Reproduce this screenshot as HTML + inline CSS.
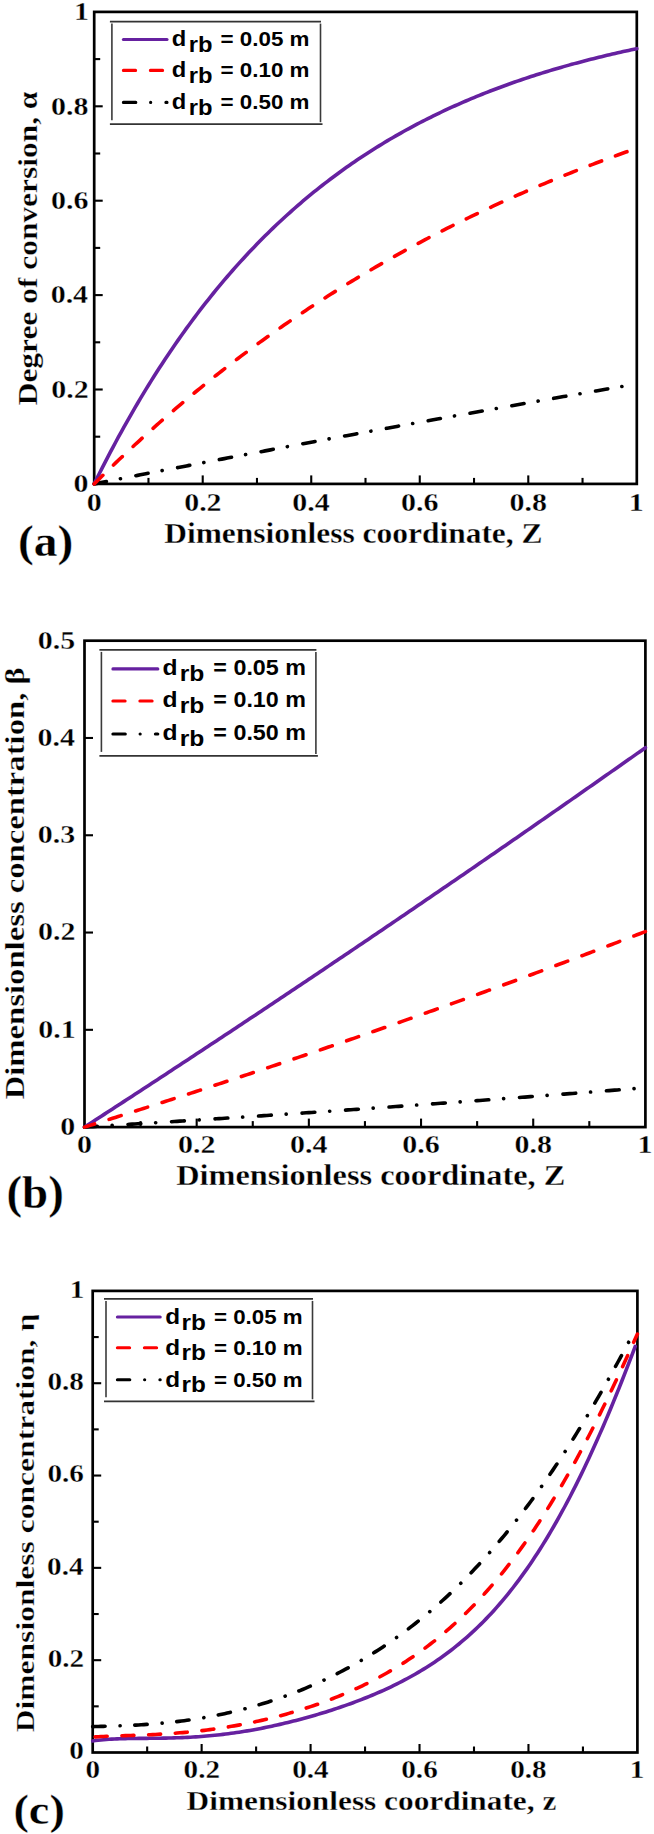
<!DOCTYPE html>
<html><head><meta charset="utf-8"><style>html,body{margin:0;padding:0;background:#fff;}svg{display:block;}</style></head>
<body><svg width="654" height="1834" viewBox="0 0 654 1834">
<rect width="654" height="1834" fill="#fff"/>
<rect x="94.20" y="11.90" width="542.60" height="472.00" fill="none" stroke="#000" stroke-width="2.7"/>
<line x1="202.72" y1="483.90" x2="202.72" y2="475.40" stroke="#000" stroke-width="2.1" stroke-linecap="butt"/>
<line x1="311.24" y1="483.90" x2="311.24" y2="475.40" stroke="#000" stroke-width="2.1" stroke-linecap="butt"/>
<line x1="419.76" y1="483.90" x2="419.76" y2="475.40" stroke="#000" stroke-width="2.1" stroke-linecap="butt"/>
<line x1="528.28" y1="483.90" x2="528.28" y2="475.40" stroke="#000" stroke-width="2.1" stroke-linecap="butt"/>
<line x1="148.46" y1="483.90" x2="148.46" y2="477.90" stroke="#000" stroke-width="2.1" stroke-linecap="butt"/>
<line x1="256.98" y1="483.90" x2="256.98" y2="477.90" stroke="#000" stroke-width="2.1" stroke-linecap="butt"/>
<line x1="365.50" y1="483.90" x2="365.50" y2="477.90" stroke="#000" stroke-width="2.1" stroke-linecap="butt"/>
<line x1="474.02" y1="483.90" x2="474.02" y2="477.90" stroke="#000" stroke-width="2.1" stroke-linecap="butt"/>
<line x1="582.54" y1="483.90" x2="582.54" y2="477.90" stroke="#000" stroke-width="2.1" stroke-linecap="butt"/>
<line x1="94.20" y1="389.50" x2="102.70" y2="389.50" stroke="#000" stroke-width="2.1" stroke-linecap="butt"/>
<line x1="94.20" y1="295.10" x2="102.70" y2="295.10" stroke="#000" stroke-width="2.1" stroke-linecap="butt"/>
<line x1="94.20" y1="200.70" x2="102.70" y2="200.70" stroke="#000" stroke-width="2.1" stroke-linecap="butt"/>
<line x1="94.20" y1="106.30" x2="102.70" y2="106.30" stroke="#000" stroke-width="2.1" stroke-linecap="butt"/>
<line x1="94.20" y1="436.70" x2="100.20" y2="436.70" stroke="#000" stroke-width="2.1" stroke-linecap="butt"/>
<line x1="94.20" y1="342.30" x2="100.20" y2="342.30" stroke="#000" stroke-width="2.1" stroke-linecap="butt"/>
<line x1="94.20" y1="247.90" x2="100.20" y2="247.90" stroke="#000" stroke-width="2.1" stroke-linecap="butt"/>
<line x1="94.20" y1="153.50" x2="100.20" y2="153.50" stroke="#000" stroke-width="2.1" stroke-linecap="butt"/>
<line x1="94.20" y1="59.10" x2="100.20" y2="59.10" stroke="#000" stroke-width="2.1" stroke-linecap="butt"/>
<path d="M94.20,483.90 L96.91,478.42 L99.63,473.00 L102.34,467.64 L105.05,462.34 L107.77,457.10 L110.48,451.92 L113.19,446.80 L115.90,441.74 L118.62,436.73 L121.33,431.78 L124.04,426.89 L126.76,422.05 L129.47,417.27 L132.18,412.54 L134.89,407.86 L137.61,403.24 L140.32,398.67 L143.03,394.15 L145.75,389.68 L148.46,385.27 L151.17,380.90 L153.89,376.58 L156.60,372.31 L159.31,368.09 L162.02,363.92 L164.74,359.79 L167.45,355.71 L170.16,351.68 L172.88,347.69 L175.59,343.74 L178.30,339.85 L181.02,335.99 L183.73,332.18 L186.44,328.41 L189.16,324.69 L191.87,321.00 L194.58,317.36 L197.29,313.76 L200.01,310.20 L202.72,306.68 L205.43,303.20 L208.15,299.76 L210.86,296.36 L213.57,293.00 L216.28,289.67 L219.00,286.38 L221.71,283.13 L224.42,279.92 L227.14,276.74 L229.85,273.60 L232.56,270.49 L235.28,267.42 L237.99,264.39 L240.70,261.39 L243.41,258.42 L246.13,255.48 L248.84,252.58 L251.55,249.71 L254.27,246.88 L256.98,244.07 L259.69,241.30 L262.41,238.56 L265.12,235.85 L267.83,233.17 L270.54,230.52 L273.26,227.90 L275.97,225.31 L278.68,222.75 L281.40,220.22 L284.11,217.72 L286.82,215.24 L289.54,212.79 L292.25,210.38 L294.96,207.98 L297.67,205.62 L300.39,203.28 L303.10,200.97 L305.81,198.68 L308.53,196.42 L311.24,194.19 L313.95,191.98 L316.67,189.80 L319.38,187.64 L322.09,185.50 L324.80,183.39 L327.52,181.31 L330.23,179.24 L332.94,177.20 L335.66,175.19 L338.37,173.19 L341.08,171.22 L343.80,169.27 L346.51,167.34 L349.22,165.44 L351.93,163.55 L354.65,161.69 L357.36,159.85 L360.07,158.03 L362.79,156.23 L365.50,154.45 L368.21,152.69 L370.93,150.95 L373.64,149.23 L376.35,147.53 L379.06,145.85 L381.78,144.18 L384.49,142.54 L387.20,140.91 L389.92,139.31 L392.63,137.72 L395.34,136.15 L398.06,134.59 L400.77,133.06 L403.48,131.54 L406.19,130.04 L408.91,128.56 L411.62,127.09 L414.33,125.64 L417.05,124.20 L419.76,122.78 L422.47,121.38 L425.19,120.00 L427.90,118.63 L430.61,117.27 L433.32,115.93 L436.04,114.61 L438.75,113.30 L441.46,112.00 L444.18,110.72 L446.89,109.46 L449.60,108.20 L452.32,106.97 L455.03,105.74 L457.74,104.53 L460.45,103.34 L463.17,102.16 L465.88,100.99 L468.59,99.83 L471.31,98.69 L474.02,97.56 L476.73,96.44 L479.45,95.34 L482.16,94.24 L484.87,93.16 L487.58,92.10 L490.30,91.04 L493.01,90.00 L495.72,88.97 L498.44,87.95 L501.15,86.94 L503.86,85.94 L506.58,84.96 L509.29,83.98 L512.00,83.02 L514.71,82.06 L517.43,81.12 L520.14,80.19 L522.85,79.27 L525.57,78.36 L528.28,77.46 L530.99,76.57 L533.71,75.69 L536.42,74.82 L539.13,73.96 L541.85,73.11 L544.56,72.27 L547.27,71.44 L549.98,70.61 L552.70,69.80 L555.41,69.00 L558.12,68.20 L560.84,67.42 L563.55,66.64 L566.26,65.87 L568.97,65.11 L571.69,64.36 L574.40,63.62 L577.11,62.89 L579.83,62.16 L582.54,61.45 L585.25,60.74 L587.97,60.04 L590.68,59.34 L593.39,58.66 L596.10,57.98 L598.82,57.31 L601.53,56.65 L604.24,55.99 L606.96,55.34 L609.67,54.70 L612.38,54.07 L615.10,53.45 L617.81,52.83 L620.52,52.22 L623.23,51.61 L625.95,51.01 L628.66,50.42 L631.37,49.84 L634.09,49.26 L636.80,48.69" fill="none" stroke="#6621a0" stroke-width="3.6" stroke-linecap="round" stroke-linejoin="round"/>
<path d="M94.20,483.90 L96.91,483.36 L99.63,482.83 L102.34,482.30 L105.05,481.76 L107.77,481.23 L110.48,480.69 L113.19,480.16 L115.90,479.63 L118.62,479.10 L121.33,478.57 L124.04,478.03 L126.76,477.50 L129.47,476.97 L132.18,476.44 L134.89,475.91 L137.61,475.38 L140.32,474.85 L143.03,474.32 L145.75,473.79 L148.46,473.27 L151.17,472.74 L153.89,472.21 L156.60,471.68 L159.31,471.16 L162.02,470.63 L164.74,470.10 L167.45,469.58 L170.16,469.05 L172.88,468.53 L175.59,468.00 L178.30,467.48 L181.02,466.95 L183.73,466.43 L186.44,465.91 L189.16,465.38 L191.87,464.86 L194.58,464.34 L197.29,463.82 L200.01,463.29 L202.72,462.77 L205.43,462.25 L208.15,461.73 L210.86,461.21 L213.57,460.69 L216.28,460.17 L219.00,459.65 L221.71,459.13 L224.42,458.62 L227.14,458.10 L229.85,457.58 L232.56,457.06 L235.28,456.55 L237.99,456.03 L240.70,455.51 L243.41,455.00 L246.13,454.48 L248.84,453.97 L251.55,453.45 L254.27,452.94 L256.98,452.42 L259.69,451.91 L262.41,451.40 L265.12,450.88 L267.83,450.37 L270.54,449.86 L273.26,449.34 L275.97,448.83 L278.68,448.32 L281.40,447.81 L284.11,447.30 L286.82,446.79 L289.54,446.28 L292.25,445.77 L294.96,445.26 L297.67,444.75 L300.39,444.24 L303.10,443.74 L305.81,443.23 L308.53,442.72 L311.24,442.21 L313.95,441.71 L316.67,441.20 L319.38,440.69 L322.09,440.19 L324.80,439.68 L327.52,439.18 L330.23,438.67 L332.94,438.17 L335.66,437.66 L338.37,437.16 L341.08,436.66 L343.80,436.16 L346.51,435.65 L349.22,435.15 L351.93,434.65 L354.65,434.15 L357.36,433.65 L360.07,433.15 L362.79,432.65 L365.50,432.15 L368.21,431.65 L370.93,431.15 L373.64,430.65 L376.35,430.15 L379.06,429.65 L381.78,429.15 L384.49,428.65 L387.20,428.16 L389.92,427.66 L392.63,427.16 L395.34,426.67 L398.06,426.17 L400.77,425.68 L403.48,425.18 L406.19,424.69 L408.91,424.19 L411.62,423.70 L414.33,423.21 L417.05,422.71 L419.76,422.22 L422.47,421.73 L425.19,421.23 L427.90,420.74 L430.61,420.25 L433.32,419.76 L436.04,419.27 L438.75,418.78 L441.46,418.29 L444.18,417.80 L446.89,417.31 L449.60,416.82 L452.32,416.33 L455.03,415.84 L457.74,415.35 L460.45,414.87 L463.17,414.38 L465.88,413.89 L468.59,413.41 L471.31,412.92 L474.02,412.43 L476.73,411.95 L479.45,411.46 L482.16,410.98 L484.87,410.49 L487.58,410.01 L490.30,409.53 L493.01,409.04 L495.72,408.56 L498.44,408.08 L501.15,407.60 L503.86,407.11 L506.58,406.63 L509.29,406.15 L512.00,405.67 L514.71,405.19 L517.43,404.71 L520.14,404.23 L522.85,403.75 L525.57,403.27 L528.28,402.79 L530.99,402.31 L533.71,401.84 L536.42,401.36 L539.13,400.88 L541.85,400.40 L544.56,399.93 L547.27,399.45 L549.98,398.97 L552.70,398.50 L555.41,398.02 L558.12,397.55 L560.84,397.07 L563.55,396.60 L566.26,396.13 L568.97,395.65 L571.69,395.18 L574.40,394.71 L577.11,394.23 L579.83,393.76 L582.54,393.29 L585.25,392.82 L587.97,392.35 L590.68,391.88 L593.39,391.41 L596.10,390.94 L598.82,390.47 L601.53,390.00 L604.24,389.53 L606.96,389.06 L609.67,388.59 L612.38,388.12 L615.10,387.66 L617.81,387.19 L620.52,386.72 L623.23,386.26 L625.95,385.79 L628.66,385.33 L631.37,384.86 L634.09,384.40 L636.80,383.93" fill="none" stroke="#000000" stroke-width="3.6" stroke-linecap="round" stroke-linejoin="round" stroke-dasharray="12.4 14.28 0.1 15.71" stroke-dashoffset="0"/>
<path d="M94.20,483.90 L96.91,481.20 L99.63,478.51 L102.34,475.83 L105.05,473.17 L107.77,470.52 L110.48,467.89 L113.19,465.27 L115.90,462.66 L118.62,460.07 L121.33,457.49 L124.04,454.92 L126.76,452.37 L129.47,449.83 L132.18,447.31 L134.89,444.80 L137.61,442.30 L140.32,439.81 L143.03,437.34 L145.75,434.88 L148.46,432.43 L151.17,430.00 L153.89,427.57 L156.60,425.17 L159.31,422.77 L162.02,420.39 L164.74,418.01 L167.45,415.66 L170.16,413.31 L172.88,410.98 L175.59,408.65 L178.30,406.34 L181.02,404.05 L183.73,401.76 L186.44,399.49 L189.16,397.22 L191.87,394.97 L194.58,392.74 L197.29,390.51 L200.01,388.29 L202.72,386.09 L205.43,383.90 L208.15,381.72 L210.86,379.55 L213.57,377.39 L216.28,375.25 L219.00,373.11 L221.71,370.99 L224.42,368.88 L227.14,366.77 L229.85,364.68 L232.56,362.60 L235.28,360.54 L237.99,358.48 L240.70,356.43 L243.41,354.39 L246.13,352.37 L248.84,350.35 L251.55,348.35 L254.27,346.36 L256.98,344.37 L259.69,342.40 L262.41,340.44 L265.12,338.48 L267.83,336.54 L270.54,334.61 L273.26,332.69 L275.97,330.77 L278.68,328.87 L281.40,326.98 L284.11,325.10 L286.82,323.23 L289.54,321.36 L292.25,319.51 L294.96,317.67 L297.67,315.83 L300.39,314.01 L303.10,312.20 L305.81,310.39 L308.53,308.60 L311.24,306.81 L313.95,305.03 L316.67,303.27 L319.38,301.51 L322.09,299.76 L324.80,298.02 L327.52,296.29 L330.23,294.57 L332.94,292.86 L335.66,291.15 L338.37,289.46 L341.08,287.77 L343.80,286.09 L346.51,284.43 L349.22,282.77 L351.93,281.12 L354.65,279.47 L357.36,277.84 L360.07,276.22 L362.79,274.60 L365.50,272.99 L368.21,271.39 L370.93,269.80 L373.64,268.22 L376.35,266.64 L379.06,265.08 L381.78,263.52 L384.49,261.97 L387.20,260.43 L389.92,258.89 L392.63,257.37 L395.34,255.85 L398.06,254.34 L400.77,252.84 L403.48,251.35 L406.19,249.86 L408.91,248.38 L411.62,246.91 L414.33,245.45 L417.05,243.99 L419.76,242.55 L422.47,241.11 L425.19,239.67 L427.90,238.25 L430.61,236.83 L433.32,235.42 L436.04,234.02 L438.75,232.62 L441.46,231.23 L444.18,229.85 L446.89,228.48 L449.60,227.11 L452.32,225.75 L455.03,224.40 L457.74,223.06 L460.45,221.72 L463.17,220.39 L465.88,219.06 L468.59,217.75 L471.31,216.44 L474.02,215.13 L476.73,213.84 L479.45,212.55 L482.16,211.26 L484.87,209.99 L487.58,208.72 L490.30,207.46 L493.01,206.20 L495.72,204.95 L498.44,203.71 L501.15,202.47 L503.86,201.24 L506.58,200.02 L509.29,198.80 L512.00,197.59 L514.71,196.38 L517.43,195.18 L520.14,193.99 L522.85,192.81 L525.57,191.63 L528.28,190.45 L530.99,189.29 L533.71,188.13 L536.42,186.97 L539.13,185.82 L541.85,184.68 L544.56,183.54 L547.27,182.41 L549.98,181.28 L552.70,180.17 L555.41,179.05 L558.12,177.94 L560.84,176.84 L563.55,175.75 L566.26,174.66 L568.97,173.57 L571.69,172.49 L574.40,171.42 L577.11,170.35 L579.83,169.29 L582.54,168.23 L585.25,167.18 L587.97,166.14 L590.68,165.10 L593.39,164.06 L596.10,163.03 L598.82,162.01 L601.53,160.99 L604.24,159.98 L606.96,158.97 L609.67,157.97 L612.38,156.97 L615.10,155.98 L617.81,154.99 L620.52,154.01 L623.23,153.03 L625.95,152.06 L628.66,151.10 L631.37,150.14 L634.09,149.18 L636.80,148.23" fill="none" stroke="#ff0000" stroke-width="3.6" stroke-linecap="round" stroke-linejoin="round" stroke-dasharray="12.2 14.8" stroke-dashoffset="0"/>
<line x1="109.90" y1="21.60" x2="321.00" y2="21.60" stroke="#333" stroke-width="1.6" stroke-linecap="butt"/>
<line x1="109.90" y1="124.20" x2="322.50" y2="124.20" stroke="#333" stroke-width="1.8" stroke-linecap="butt"/>
<line x1="111.90" y1="23.60" x2="111.90" y2="120.20" stroke="#3a3a3a" stroke-width="1.6" stroke-linecap="butt"/>
<line x1="320.50" y1="23.60" x2="320.50" y2="122.20" stroke="#3a3a3a" stroke-width="1.6" stroke-linecap="butt"/>
<path d="M123.40,39.50 L167.00,39.50" stroke="#6621a0" stroke-width="3.1" stroke-linecap="round"/>
<path d="M123.40,70.40 L167.00,70.40" stroke="#ff0000" stroke-width="3.1" stroke-linecap="round" stroke-dasharray="12.2 14.8"/>
<path d="M123.40,102.40 L167.00,102.40" stroke="#000000" stroke-width="3.1" stroke-linecap="round" stroke-dasharray="12.4 14.8 0.1 15.2"/>
<rect x="84.50" y="640.70" width="560.90" height="486.40" fill="none" stroke="#000" stroke-width="2.7"/>
<line x1="196.68" y1="1127.10" x2="196.68" y2="1118.60" stroke="#000" stroke-width="2.1" stroke-linecap="butt"/>
<line x1="308.86" y1="1127.10" x2="308.86" y2="1118.60" stroke="#000" stroke-width="2.1" stroke-linecap="butt"/>
<line x1="421.04" y1="1127.10" x2="421.04" y2="1118.60" stroke="#000" stroke-width="2.1" stroke-linecap="butt"/>
<line x1="533.22" y1="1127.10" x2="533.22" y2="1118.60" stroke="#000" stroke-width="2.1" stroke-linecap="butt"/>
<line x1="140.59" y1="1127.10" x2="140.59" y2="1121.10" stroke="#000" stroke-width="2.1" stroke-linecap="butt"/>
<line x1="252.77" y1="1127.10" x2="252.77" y2="1121.10" stroke="#000" stroke-width="2.1" stroke-linecap="butt"/>
<line x1="364.95" y1="1127.10" x2="364.95" y2="1121.10" stroke="#000" stroke-width="2.1" stroke-linecap="butt"/>
<line x1="477.13" y1="1127.10" x2="477.13" y2="1121.10" stroke="#000" stroke-width="2.1" stroke-linecap="butt"/>
<line x1="589.31" y1="1127.10" x2="589.31" y2="1121.10" stroke="#000" stroke-width="2.1" stroke-linecap="butt"/>
<line x1="84.50" y1="1029.82" x2="93.00" y2="1029.82" stroke="#000" stroke-width="2.1" stroke-linecap="butt"/>
<line x1="84.50" y1="932.54" x2="93.00" y2="932.54" stroke="#000" stroke-width="2.1" stroke-linecap="butt"/>
<line x1="84.50" y1="835.26" x2="93.00" y2="835.26" stroke="#000" stroke-width="2.1" stroke-linecap="butt"/>
<line x1="84.50" y1="737.98" x2="93.00" y2="737.98" stroke="#000" stroke-width="2.1" stroke-linecap="butt"/>
<path d="M84.50,1127.10 L87.30,1125.29 L90.11,1123.47 L92.91,1121.65 L95.72,1119.84 L98.52,1118.02 L101.33,1116.20 L104.13,1114.38 L106.94,1112.56 L109.74,1110.74 L112.55,1108.92 L115.35,1107.09 L118.15,1105.27 L120.96,1103.44 L123.76,1101.62 L126.57,1099.79 L129.37,1097.97 L132.18,1096.14 L134.98,1094.31 L137.79,1092.48 L140.59,1090.65 L143.39,1088.82 L146.20,1086.99 L149.00,1085.15 L151.81,1083.32 L154.61,1081.48 L157.42,1079.65 L160.22,1077.81 L163.03,1075.98 L165.83,1074.14 L168.63,1072.30 L171.44,1070.46 L174.24,1068.62 L177.05,1066.78 L179.85,1064.94 L182.66,1063.09 L185.46,1061.25 L188.27,1059.41 L191.07,1057.56 L193.88,1055.71 L196.68,1053.87 L199.48,1052.02 L202.29,1050.17 L205.09,1048.32 L207.90,1046.47 L210.70,1044.62 L213.51,1042.77 L216.31,1040.92 L219.12,1039.06 L221.92,1037.21 L224.72,1035.35 L227.53,1033.50 L230.33,1031.64 L233.14,1029.78 L235.94,1027.92 L238.75,1026.06 L241.55,1024.20 L244.36,1022.34 L247.16,1020.48 L249.97,1018.62 L252.77,1016.76 L255.57,1014.89 L258.38,1013.03 L261.18,1011.16 L263.99,1009.29 L266.79,1007.43 L269.60,1005.56 L272.40,1003.69 L275.21,1001.82 L278.01,999.95 L280.81,998.08 L283.62,996.20 L286.42,994.33 L289.23,992.45 L292.03,990.58 L294.84,988.70 L297.64,986.83 L300.45,984.95 L303.25,983.07 L306.06,981.19 L308.86,979.31 L311.66,977.43 L314.47,975.55 L317.27,973.67 L320.08,971.78 L322.88,969.90 L325.69,968.01 L328.49,966.13 L331.30,964.24 L334.10,962.35 L336.90,960.47 L339.71,958.58 L342.51,956.69 L345.32,954.80 L348.12,952.91 L350.93,951.01 L353.73,949.12 L356.54,947.23 L359.34,945.33 L362.15,943.43 L364.95,941.54 L367.75,939.64 L370.56,937.74 L373.36,935.84 L376.17,933.94 L378.97,932.04 L381.78,930.14 L384.58,928.24 L387.39,926.34 L390.19,924.43 L393.00,922.53 L395.80,920.62 L398.60,918.72 L401.41,916.81 L404.21,914.90 L407.02,912.99 L409.82,911.08 L412.63,909.17 L415.43,907.26 L418.24,905.35 L421.04,903.43 L423.84,901.52 L426.65,899.61 L429.45,897.69 L432.26,895.77 L435.06,893.86 L437.87,891.94 L440.67,890.02 L443.48,888.10 L446.28,886.18 L449.08,884.26 L451.89,882.34 L454.69,880.41 L457.50,878.49 L460.30,876.56 L463.11,874.64 L465.91,872.71 L468.72,870.78 L471.52,868.86 L474.33,866.93 L477.13,865.00 L479.93,863.07 L482.74,861.14 L485.54,859.20 L488.35,857.27 L491.15,855.34 L493.96,853.40 L496.76,851.47 L499.57,849.53 L502.37,847.59 L505.17,845.66 L507.98,843.72 L510.78,841.78 L513.59,839.84 L516.39,837.90 L519.20,835.95 L522.00,834.01 L524.81,832.07 L527.61,830.12 L530.42,828.18 L533.22,826.23 L536.02,824.29 L538.83,822.34 L541.63,820.39 L544.44,818.44 L547.24,816.49 L550.05,814.54 L552.85,812.59 L555.66,810.63 L558.46,808.68 L561.26,806.73 L564.07,804.77 L566.87,802.81 L569.68,800.86 L572.48,798.90 L575.29,796.94 L578.09,794.98 L580.90,793.02 L583.70,791.06 L586.51,789.10 L589.31,787.14 L592.11,785.17 L594.92,783.21 L597.72,781.24 L600.53,779.28 L603.33,777.31 L606.14,775.34 L608.94,773.37 L611.75,771.40 L614.55,769.43 L617.36,767.46 L620.16,765.49 L622.96,763.52 L625.77,761.55 L628.57,759.57 L631.38,757.60 L634.18,755.62 L636.99,753.64 L639.79,751.67 L642.60,749.69 L645.40,747.71" fill="none" stroke="#6621a0" stroke-width="3.6" stroke-linecap="round" stroke-linejoin="round"/>
<path d="M84.50,1127.10 L87.30,1126.93 L90.11,1126.76 L92.91,1126.59 L95.72,1126.42 L98.52,1126.25 L101.33,1126.07 L104.13,1125.90 L106.94,1125.73 L109.74,1125.56 L112.55,1125.38 L115.35,1125.21 L118.15,1125.04 L120.96,1124.86 L123.76,1124.69 L126.57,1124.52 L129.37,1124.34 L132.18,1124.17 L134.98,1123.99 L137.79,1123.82 L140.59,1123.64 L143.39,1123.47 L146.20,1123.29 L149.00,1123.11 L151.81,1122.94 L154.61,1122.76 L157.42,1122.58 L160.22,1122.41 L163.03,1122.23 L165.83,1122.05 L168.63,1121.87 L171.44,1121.69 L174.24,1121.52 L177.05,1121.34 L179.85,1121.16 L182.66,1120.98 L185.46,1120.80 L188.27,1120.62 L191.07,1120.44 L193.88,1120.26 L196.68,1120.08 L199.48,1119.90 L202.29,1119.71 L205.09,1119.53 L207.90,1119.35 L210.70,1119.17 L213.51,1118.99 L216.31,1118.80 L219.12,1118.62 L221.92,1118.44 L224.72,1118.25 L227.53,1118.07 L230.33,1117.89 L233.14,1117.70 L235.94,1117.52 L238.75,1117.33 L241.55,1117.15 L244.36,1116.96 L247.16,1116.78 L249.97,1116.59 L252.77,1116.40 L255.57,1116.22 L258.38,1116.03 L261.18,1115.84 L263.99,1115.66 L266.79,1115.47 L269.60,1115.28 L272.40,1115.09 L275.21,1114.91 L278.01,1114.72 L280.81,1114.53 L283.62,1114.34 L286.42,1114.15 L289.23,1113.96 L292.03,1113.77 L294.84,1113.58 L297.64,1113.39 L300.45,1113.20 L303.25,1113.01 L306.06,1112.82 L308.86,1112.62 L311.66,1112.43 L314.47,1112.24 L317.27,1112.05 L320.08,1111.86 L322.88,1111.66 L325.69,1111.47 L328.49,1111.28 L331.30,1111.08 L334.10,1110.89 L336.90,1110.69 L339.71,1110.50 L342.51,1110.31 L345.32,1110.11 L348.12,1109.92 L350.93,1109.72 L353.73,1109.52 L356.54,1109.33 L359.34,1109.13 L362.15,1108.94 L364.95,1108.74 L367.75,1108.54 L370.56,1108.34 L373.36,1108.15 L376.17,1107.95 L378.97,1107.75 L381.78,1107.55 L384.58,1107.35 L387.39,1107.15 L390.19,1106.95 L393.00,1106.76 L395.80,1106.56 L398.60,1106.36 L401.41,1106.15 L404.21,1105.95 L407.02,1105.75 L409.82,1105.55 L412.63,1105.35 L415.43,1105.15 L418.24,1104.95 L421.04,1104.75 L423.84,1104.54 L426.65,1104.34 L429.45,1104.14 L432.26,1103.93 L435.06,1103.73 L437.87,1103.53 L440.67,1103.32 L443.48,1103.12 L446.28,1102.91 L449.08,1102.71 L451.89,1102.50 L454.69,1102.30 L457.50,1102.09 L460.30,1101.89 L463.11,1101.68 L465.91,1101.47 L468.72,1101.27 L471.52,1101.06 L474.33,1100.85 L477.13,1100.64 L479.93,1100.44 L482.74,1100.23 L485.54,1100.02 L488.35,1099.81 L491.15,1099.60 L493.96,1099.39 L496.76,1099.18 L499.57,1098.97 L502.37,1098.76 L505.17,1098.55 L507.98,1098.34 L510.78,1098.13 L513.59,1097.92 L516.39,1097.71 L519.20,1097.50 L522.00,1097.29 L524.81,1097.08 L527.61,1096.86 L530.42,1096.65 L533.22,1096.44 L536.02,1096.22 L538.83,1096.01 L541.63,1095.80 L544.44,1095.58 L547.24,1095.37 L550.05,1095.15 L552.85,1094.94 L555.66,1094.72 L558.46,1094.51 L561.26,1094.29 L564.07,1094.08 L566.87,1093.86 L569.68,1093.65 L572.48,1093.43 L575.29,1093.21 L578.09,1092.99 L580.90,1092.78 L583.70,1092.56 L586.51,1092.34 L589.31,1092.12 L592.11,1091.90 L594.92,1091.69 L597.72,1091.47 L600.53,1091.25 L603.33,1091.03 L606.14,1090.81 L608.94,1090.59 L611.75,1090.37 L614.55,1090.15 L617.36,1089.93 L620.16,1089.70 L622.96,1089.48 L625.77,1089.26 L628.57,1089.04 L631.38,1088.82 L634.18,1088.59 L636.99,1088.37 L639.79,1088.15 L642.60,1087.93 L645.40,1087.70" fill="none" stroke="#000000" stroke-width="3.6" stroke-linecap="round" stroke-linejoin="round" stroke-dasharray="12.8 14.85 0.1 15.85" stroke-dashoffset="0"/>
<path d="M84.50,1127.10 L87.30,1126.22 L90.11,1125.35 L92.91,1124.47 L95.72,1123.59 L98.52,1122.71 L101.33,1121.83 L104.13,1120.95 L106.94,1120.06 L109.74,1119.18 L112.55,1118.29 L115.35,1117.41 L118.15,1116.52 L120.96,1115.63 L123.76,1114.74 L126.57,1113.85 L129.37,1112.96 L132.18,1112.07 L134.98,1111.18 L137.79,1110.28 L140.59,1109.39 L143.39,1108.49 L146.20,1107.59 L149.00,1106.69 L151.81,1105.79 L154.61,1104.89 L157.42,1103.99 L160.22,1103.09 L163.03,1102.19 L165.83,1101.28 L168.63,1100.37 L171.44,1099.47 L174.24,1098.56 L177.05,1097.65 L179.85,1096.74 L182.66,1095.83 L185.46,1094.92 L188.27,1094.01 L191.07,1093.09 L193.88,1092.18 L196.68,1091.26 L199.48,1090.35 L202.29,1089.43 L205.09,1088.51 L207.90,1087.59 L210.70,1086.67 L213.51,1085.75 L216.31,1084.82 L219.12,1083.90 L221.92,1082.97 L224.72,1082.05 L227.53,1081.12 L230.33,1080.19 L233.14,1079.26 L235.94,1078.33 L238.75,1077.40 L241.55,1076.47 L244.36,1075.54 L247.16,1074.60 L249.97,1073.67 L252.77,1072.73 L255.57,1071.79 L258.38,1070.85 L261.18,1069.92 L263.99,1068.97 L266.79,1068.03 L269.60,1067.09 L272.40,1066.15 L275.21,1065.20 L278.01,1064.26 L280.81,1063.31 L283.62,1062.36 L286.42,1061.41 L289.23,1060.47 L292.03,1059.51 L294.84,1058.56 L297.64,1057.61 L300.45,1056.66 L303.25,1055.70 L306.06,1054.75 L308.86,1053.79 L311.66,1052.83 L314.47,1051.87 L317.27,1050.91 L320.08,1049.95 L322.88,1048.99 L325.69,1048.03 L328.49,1047.06 L331.30,1046.10 L334.10,1045.13 L336.90,1044.17 L339.71,1043.20 L342.51,1042.23 L345.32,1041.26 L348.12,1040.29 L350.93,1039.32 L353.73,1038.34 L356.54,1037.37 L359.34,1036.39 L362.15,1035.42 L364.95,1034.44 L367.75,1033.46 L370.56,1032.48 L373.36,1031.50 L376.17,1030.52 L378.97,1029.54 L381.78,1028.56 L384.58,1027.57 L387.39,1026.59 L390.19,1025.60 L393.00,1024.61 L395.80,1023.62 L398.60,1022.64 L401.41,1021.64 L404.21,1020.65 L407.02,1019.66 L409.82,1018.67 L412.63,1017.67 L415.43,1016.68 L418.24,1015.68 L421.04,1014.68 L423.84,1013.68 L426.65,1012.69 L429.45,1011.68 L432.26,1010.68 L435.06,1009.68 L437.87,1008.68 L440.67,1007.67 L443.48,1006.67 L446.28,1005.66 L449.08,1004.65 L451.89,1003.64 L454.69,1002.63 L457.50,1001.62 L460.30,1000.61 L463.11,999.60 L465.91,998.58 L468.72,997.57 L471.52,996.55 L474.33,995.54 L477.13,994.52 L479.93,993.50 L482.74,992.48 L485.54,991.46 L488.35,990.43 L491.15,989.41 L493.96,988.39 L496.76,987.36 L499.57,986.34 L502.37,985.31 L505.17,984.28 L507.98,983.25 L510.78,982.22 L513.59,981.19 L516.39,980.16 L519.20,979.12 L522.00,978.09 L524.81,977.05 L527.61,976.02 L530.42,974.98 L533.22,973.94 L536.02,972.90 L538.83,971.86 L541.63,970.82 L544.44,969.78 L547.24,968.73 L550.05,967.69 L552.85,966.64 L555.66,965.60 L558.46,964.55 L561.26,963.50 L564.07,962.45 L566.87,961.40 L569.68,960.35 L572.48,959.30 L575.29,958.24 L578.09,957.19 L580.90,956.13 L583.70,955.08 L586.51,954.02 L589.31,952.96 L592.11,951.90 L594.92,950.84 L597.72,949.78 L600.53,948.71 L603.33,947.65 L606.14,946.58 L608.94,945.52 L611.75,944.45 L614.55,943.38 L617.36,942.31 L620.16,941.24 L622.96,940.17 L625.77,939.10 L628.57,938.03 L631.38,936.95 L634.18,935.88 L636.99,934.80 L639.79,933.72 L642.60,932.65 L645.40,931.57" fill="none" stroke="#ff0000" stroke-width="3.6" stroke-linecap="round" stroke-linejoin="round" stroke-dasharray="12.6 15.2" stroke-dashoffset="2"/>
<line x1="99.40" y1="649.90" x2="316.40" y2="649.90" stroke="#333" stroke-width="1.6" stroke-linecap="butt"/>
<line x1="99.40" y1="755.90" x2="317.90" y2="755.90" stroke="#333" stroke-width="1.8" stroke-linecap="butt"/>
<line x1="101.40" y1="651.90" x2="101.40" y2="751.90" stroke="#3a3a3a" stroke-width="1.6" stroke-linecap="butt"/>
<line x1="315.90" y1="651.90" x2="315.90" y2="753.90" stroke="#3a3a3a" stroke-width="1.6" stroke-linecap="butt"/>
<path d="M112.90,668.90 L157.80,668.90" stroke="#6621a0" stroke-width="3.1" stroke-linecap="round"/>
<path d="M112.90,701.00 L157.80,701.00" stroke="#ff0000" stroke-width="3.1" stroke-linecap="round" stroke-dasharray="12.2 14.8"/>
<path d="M112.90,734.00 L157.80,734.00" stroke="#000000" stroke-width="3.1" stroke-linecap="round" stroke-dasharray="12.4 14.8 0.1 15.2"/>
<rect x="92.70" y="1290.90" width="544.70" height="461.60" fill="none" stroke="#000" stroke-width="2.7"/>
<line x1="201.64" y1="1752.50" x2="201.64" y2="1744.00" stroke="#000" stroke-width="2.1" stroke-linecap="butt"/>
<line x1="310.58" y1="1752.50" x2="310.58" y2="1744.00" stroke="#000" stroke-width="2.1" stroke-linecap="butt"/>
<line x1="419.52" y1="1752.50" x2="419.52" y2="1744.00" stroke="#000" stroke-width="2.1" stroke-linecap="butt"/>
<line x1="528.46" y1="1752.50" x2="528.46" y2="1744.00" stroke="#000" stroke-width="2.1" stroke-linecap="butt"/>
<line x1="147.17" y1="1752.50" x2="147.17" y2="1746.50" stroke="#000" stroke-width="2.1" stroke-linecap="butt"/>
<line x1="256.11" y1="1752.50" x2="256.11" y2="1746.50" stroke="#000" stroke-width="2.1" stroke-linecap="butt"/>
<line x1="365.05" y1="1752.50" x2="365.05" y2="1746.50" stroke="#000" stroke-width="2.1" stroke-linecap="butt"/>
<line x1="473.99" y1="1752.50" x2="473.99" y2="1746.50" stroke="#000" stroke-width="2.1" stroke-linecap="butt"/>
<line x1="582.93" y1="1752.50" x2="582.93" y2="1746.50" stroke="#000" stroke-width="2.1" stroke-linecap="butt"/>
<line x1="92.70" y1="1660.18" x2="101.20" y2="1660.18" stroke="#000" stroke-width="2.1" stroke-linecap="butt"/>
<line x1="92.70" y1="1567.86" x2="101.20" y2="1567.86" stroke="#000" stroke-width="2.1" stroke-linecap="butt"/>
<line x1="92.70" y1="1475.54" x2="101.20" y2="1475.54" stroke="#000" stroke-width="2.1" stroke-linecap="butt"/>
<line x1="92.70" y1="1383.22" x2="101.20" y2="1383.22" stroke="#000" stroke-width="2.1" stroke-linecap="butt"/>
<line x1="92.70" y1="1706.34" x2="98.70" y2="1706.34" stroke="#000" stroke-width="2.1" stroke-linecap="butt"/>
<line x1="92.70" y1="1614.02" x2="98.70" y2="1614.02" stroke="#000" stroke-width="2.1" stroke-linecap="butt"/>
<line x1="92.70" y1="1521.70" x2="98.70" y2="1521.70" stroke="#000" stroke-width="2.1" stroke-linecap="butt"/>
<line x1="92.70" y1="1429.38" x2="98.70" y2="1429.38" stroke="#000" stroke-width="2.1" stroke-linecap="butt"/>
<line x1="92.70" y1="1337.06" x2="98.70" y2="1337.06" stroke="#000" stroke-width="2.1" stroke-linecap="butt"/>
<path d="M92.70,1740.95 L95.41,1740.59 L98.13,1740.26 L100.84,1739.97 L103.55,1739.72 L106.26,1739.50 L108.98,1739.30 L111.69,1739.14 L114.40,1738.99 L117.11,1738.87 L119.83,1738.77 L122.54,1738.69 L125.25,1738.61 L127.96,1738.56 L130.68,1738.51 L133.39,1738.47 L136.10,1738.43 L138.81,1738.41 L141.53,1738.38 L144.24,1738.36 L146.95,1738.34 L149.66,1738.32 L152.38,1738.29 L155.09,1738.26 L157.80,1738.23 L160.52,1738.20 L163.23,1738.15 L165.94,1738.10 L168.65,1738.05 L171.37,1737.98 L174.08,1737.90 L176.79,1737.82 L179.50,1737.72 L182.22,1737.61 L184.93,1737.49 L187.64,1737.36 L190.35,1737.21 L193.07,1737.06 L195.78,1736.88 L198.49,1736.70 L201.20,1736.50 L203.92,1736.29 L206.63,1736.06 L209.34,1735.82 L212.05,1735.56 L214.77,1735.29 L217.48,1735.00 L220.19,1734.70 L222.91,1734.38 L225.62,1734.05 L228.33,1733.71 L231.04,1733.34 L233.76,1732.97 L236.47,1732.58 L239.18,1732.17 L241.89,1731.75 L244.61,1731.32 L247.32,1730.87 L250.03,1730.40 L252.74,1729.92 L255.46,1729.43 L258.17,1728.92 L260.88,1728.40 L263.59,1727.87 L266.31,1727.32 L269.02,1726.76 L271.73,1726.18 L274.44,1725.59 L277.16,1724.99 L279.87,1724.38 L282.58,1723.75 L285.30,1723.11 L288.01,1722.45 L290.72,1721.78 L293.43,1721.10 L296.15,1720.41 L298.86,1719.70 L301.57,1718.98 L304.28,1718.25 L307.00,1717.50 L309.71,1716.74 L312.42,1715.97 L315.13,1715.18 L317.85,1714.39 L320.56,1713.57 L323.27,1712.75 L325.98,1711.91 L328.70,1711.05 L331.41,1710.18 L334.12,1709.30 L336.83,1708.41 L339.55,1707.49 L342.26,1706.56 L344.97,1705.62 L347.68,1704.66 L350.40,1703.69 L353.11,1702.69 L355.82,1701.68 L358.54,1700.66 L361.25,1699.61 L363.96,1698.55 L366.67,1697.47 L369.39,1696.36 L372.10,1695.24 L374.81,1694.10 L377.52,1692.93 L380.24,1691.74 L382.95,1690.53 L385.66,1689.30 L388.37,1688.04 L391.09,1686.76 L393.80,1685.45 L396.51,1684.12 L399.22,1682.75 L401.94,1681.36 L404.65,1679.94 L407.36,1678.50 L410.07,1677.02 L412.79,1675.50 L415.50,1673.96 L418.21,1672.38 L420.93,1670.77 L423.64,1669.12 L426.35,1667.44 L429.06,1665.71 L431.78,1663.95 L434.49,1662.15 L437.20,1660.31 L439.91,1658.43 L442.63,1656.50 L445.34,1654.53 L448.05,1652.52 L450.76,1650.45 L453.48,1648.34 L456.19,1646.18 L458.90,1643.98 L461.61,1641.72 L464.33,1639.40 L467.04,1637.04 L469.75,1634.62 L472.46,1632.14 L475.18,1629.61 L477.89,1627.02 L480.60,1624.37 L483.32,1621.66 L486.03,1618.88 L488.74,1616.05 L491.45,1613.15 L494.17,1610.18 L496.88,1607.15 L499.59,1604.05 L502.30,1600.88 L505.02,1597.64 L507.73,1594.33 L510.44,1590.95 L513.15,1587.50 L515.87,1583.97 L518.58,1580.36 L521.29,1576.68 L524.00,1572.92 L526.72,1569.09 L529.43,1565.17 L532.14,1561.18 L534.85,1557.10 L537.57,1552.94 L540.28,1548.71 L542.99,1544.38 L545.71,1539.98 L548.42,1535.49 L551.13,1530.91 L553.84,1526.25 L556.56,1521.50 L559.27,1516.67 L561.98,1511.74 L564.69,1506.74 L567.41,1501.64 L570.12,1496.46 L572.83,1491.18 L575.54,1485.82 L578.26,1480.38 L580.97,1474.84 L583.68,1469.22 L586.39,1463.51 L589.11,1457.71 L591.82,1451.82 L594.53,1445.85 L597.24,1439.79 L599.96,1433.64 L602.67,1427.42 L605.38,1421.10 L608.10,1414.71 L610.81,1408.23 L613.52,1401.67 L616.23,1395.03 L618.95,1388.31 L621.66,1381.52 L624.37,1374.65 L627.08,1367.71 L629.80,1360.69 L632.51,1353.61 L635.22,1346.45" fill="none" stroke="#6621a0" stroke-width="3.6" stroke-linecap="round" stroke-linejoin="round"/>
<path d="M92.70,1726.60 L95.39,1726.54 L98.08,1726.47 L100.77,1726.41 L103.46,1726.34 L106.15,1726.26 L108.84,1726.19 L111.54,1726.11 L114.23,1726.02 L116.92,1725.93 L119.61,1725.83 L122.30,1725.73 L124.99,1725.61 L127.68,1725.50 L130.37,1725.37 L133.06,1725.23 L135.75,1725.09 L138.44,1724.94 L141.13,1724.78 L143.83,1724.60 L146.52,1724.42 L149.21,1724.23 L151.90,1724.03 L154.59,1723.81 L157.28,1723.59 L159.97,1723.35 L162.66,1723.10 L165.35,1722.84 L168.04,1722.57 L170.73,1722.29 L173.42,1721.99 L176.12,1721.68 L178.81,1721.35 L181.50,1721.01 L184.19,1720.66 L186.88,1720.30 L189.57,1719.92 L192.26,1719.52 L194.95,1719.12 L197.64,1718.69 L200.33,1718.26 L203.02,1717.80 L205.71,1717.34 L208.41,1716.85 L211.10,1716.36 L213.79,1715.84 L216.48,1715.32 L219.17,1714.77 L221.86,1714.21 L224.55,1713.64 L227.24,1713.04 L229.93,1712.44 L232.62,1711.81 L235.31,1711.17 L238.00,1710.51 L240.69,1709.84 L243.39,1709.15 L246.08,1708.44 L248.77,1707.72 L251.46,1706.97 L254.15,1706.22 L256.84,1705.44 L259.53,1704.64 L262.22,1703.83 L264.91,1703.00 L267.60,1702.16 L270.29,1701.29 L272.98,1700.41 L275.68,1699.51 L278.37,1698.59 L281.06,1697.65 L283.75,1696.69 L286.44,1695.71 L289.13,1694.72 L291.82,1693.71 L294.51,1692.67 L297.20,1691.62 L299.89,1690.55 L302.58,1689.46 L305.27,1688.34 L307.97,1687.21 L310.66,1686.06 L313.35,1684.89 L316.04,1683.70 L318.73,1682.48 L321.42,1681.25 L324.11,1679.99 L326.80,1678.72 L329.49,1677.42 L332.18,1676.10 L334.87,1674.76 L337.56,1673.40 L340.26,1672.01 L342.95,1670.60 L345.64,1669.17 L348.33,1667.72 L351.02,1666.24 L353.71,1664.74 L356.40,1663.22 L359.09,1661.67 L361.78,1660.10 L364.47,1658.51 L367.16,1656.89 L369.85,1655.24 L372.55,1653.57 L375.24,1651.88 L377.93,1650.16 L380.62,1648.41 L383.31,1646.64 L386.00,1644.84 L388.69,1643.02 L391.38,1641.17 L394.07,1639.29 L396.76,1637.38 L399.45,1635.45 L402.14,1633.49 L404.83,1631.50 L407.53,1629.48 L410.22,1627.43 L412.91,1625.35 L415.60,1623.25 L418.29,1621.11 L420.98,1618.95 L423.67,1616.75 L426.36,1614.52 L429.05,1612.26 L431.74,1609.98 L434.43,1607.65 L437.12,1605.30 L439.82,1602.92 L442.51,1600.50 L445.20,1598.05 L447.89,1595.57 L450.58,1593.05 L453.27,1590.50 L455.96,1587.92 L458.65,1585.30 L461.34,1582.65 L464.03,1579.96 L466.72,1577.24 L469.41,1574.48 L472.11,1571.69 L474.80,1568.86 L477.49,1565.99 L480.18,1563.09 L482.87,1560.15 L485.56,1557.18 L488.25,1554.16 L490.94,1551.11 L493.63,1548.02 L496.32,1544.90 L499.01,1541.73 L501.70,1538.53 L504.40,1535.29 L507.09,1532.01 L509.78,1528.69 L512.47,1525.33 L515.16,1521.93 L517.85,1518.49 L520.54,1515.01 L523.23,1511.50 L525.92,1507.94 L528.61,1504.34 L531.30,1500.70 L533.99,1497.02 L536.68,1493.30 L539.38,1489.54 L542.07,1485.74 L544.76,1481.90 L547.45,1478.02 L550.14,1474.09 L552.83,1470.13 L555.52,1466.12 L558.21,1462.08 L560.90,1457.99 L563.59,1453.86 L566.28,1449.69 L568.97,1445.48 L571.67,1441.23 L574.36,1436.94 L577.05,1432.61 L579.74,1428.24 L582.43,1423.83 L585.12,1419.38 L587.81,1414.90 L590.50,1410.37 L593.19,1405.80 L595.88,1401.19 L598.57,1396.55 L601.26,1391.87 L603.96,1387.15 L606.65,1382.39 L609.34,1377.60 L612.03,1372.77 L614.72,1367.90 L617.41,1363.00 L620.10,1358.07 L622.79,1353.10 L625.48,1348.09 L628.17,1343.06 L630.86,1337.99" fill="none" stroke="#000000" stroke-width="3.6" stroke-linecap="round" stroke-linejoin="round" stroke-dasharray="12.4 14.98 0.1 14.62" stroke-dashoffset="0"/>
<path d="M92.70,1737.00 L95.42,1736.84 L98.15,1736.70 L100.87,1736.56 L103.59,1736.44 L106.32,1736.32 L109.04,1736.21 L111.76,1736.11 L114.49,1736.01 L117.21,1735.91 L119.94,1735.82 L122.66,1735.73 L125.38,1735.64 L128.11,1735.55 L130.83,1735.46 L133.55,1735.36 L136.28,1735.26 L139.00,1735.16 L141.72,1735.06 L144.45,1734.95 L147.17,1734.83 L149.89,1734.71 L152.62,1734.58 L155.34,1734.45 L158.06,1734.30 L160.79,1734.15 L163.51,1733.99 L166.23,1733.82 L168.96,1733.65 L171.68,1733.46 L174.40,1733.26 L177.13,1733.05 L179.85,1732.83 L182.58,1732.60 L185.30,1732.36 L188.02,1732.11 L190.75,1731.84 L193.47,1731.57 L196.19,1731.28 L198.92,1730.98 L201.64,1730.66 L204.36,1730.34 L207.09,1730.00 L209.81,1729.65 L212.53,1729.28 L215.26,1728.90 L217.98,1728.51 L220.70,1728.11 L223.43,1727.69 L226.15,1727.26 L228.88,1726.81 L231.60,1726.35 L234.32,1725.88 L237.05,1725.39 L239.77,1724.89 L242.49,1724.38 L245.22,1723.85 L247.94,1723.31 L250.66,1722.75 L253.39,1722.18 L256.11,1721.59 L258.83,1720.99 L261.56,1720.37 L264.28,1719.74 L267.00,1719.10 L269.73,1718.44 L272.45,1717.76 L275.17,1717.07 L277.90,1716.37 L280.62,1715.64 L283.34,1714.91 L286.07,1714.15 L288.79,1713.39 L291.52,1712.60 L294.24,1711.80 L296.96,1710.98 L299.69,1710.15 L302.41,1709.30 L305.13,1708.43 L307.86,1707.55 L310.58,1706.64 L313.30,1705.72 L316.03,1704.78 L318.75,1703.83 L321.47,1702.85 L324.20,1701.86 L326.92,1700.85 L329.64,1699.81 L332.37,1698.76 L335.09,1697.69 L337.81,1696.60 L340.54,1695.49 L343.26,1694.35 L345.99,1693.19 L348.71,1692.02 L351.43,1690.82 L354.16,1689.59 L356.88,1688.35 L359.60,1687.08 L362.33,1685.78 L365.05,1684.47 L367.77,1683.12 L370.50,1681.75 L373.22,1680.36 L375.94,1678.94 L378.67,1677.49 L381.39,1676.01 L384.11,1674.51 L386.84,1672.97 L389.56,1671.41 L392.28,1669.82 L395.01,1668.20 L397.73,1666.54 L400.46,1664.86 L403.18,1663.14 L405.90,1661.39 L408.63,1659.60 L411.35,1657.78 L414.07,1655.93 L416.80,1654.04 L419.52,1652.12 L422.24,1650.15 L424.97,1648.16 L427.69,1646.12 L430.41,1644.04 L433.14,1641.93 L435.86,1639.77 L438.58,1637.57 L441.31,1635.34 L444.03,1633.06 L446.75,1630.73 L449.48,1628.37 L452.20,1625.95 L454.93,1623.50 L457.65,1621.00 L460.37,1618.45 L463.10,1615.85 L465.82,1613.21 L468.54,1610.52 L471.27,1607.78 L473.99,1604.99 L476.71,1602.15 L479.44,1599.26 L482.16,1596.32 L484.88,1593.33 L487.61,1590.28 L490.33,1587.18 L493.05,1584.02 L495.78,1580.82 L498.50,1577.55 L501.22,1574.23 L503.95,1570.86 L506.67,1567.43 L509.40,1563.94 L512.12,1560.39 L514.84,1556.79 L517.57,1553.12 L520.29,1549.40 L523.01,1545.62 L525.74,1541.78 L528.46,1537.88 L531.18,1533.92 L533.91,1529.90 L536.63,1525.82 L539.35,1521.68 L542.08,1517.48 L544.80,1513.22 L547.52,1508.89 L550.25,1504.51 L552.97,1500.06 L555.69,1495.55 L558.42,1490.98 L561.14,1486.35 L563.87,1481.66 L566.59,1476.91 L569.31,1472.10 L572.04,1467.23 L574.76,1462.30 L577.48,1457.31 L580.21,1452.26 L582.93,1447.15 L585.65,1441.98 L588.38,1436.76 L591.10,1431.48 L593.82,1426.14 L596.55,1420.75 L599.27,1415.31 L601.99,1409.81 L604.72,1404.26 L607.44,1398.65 L610.16,1393.00 L612.89,1387.30 L615.61,1381.55 L618.34,1375.75 L621.06,1369.91 L623.78,1364.03 L626.51,1358.10 L629.23,1352.14 L631.95,1346.13 L634.68,1340.09 L637.40,1334.02" fill="none" stroke="#ff0000" stroke-width="3.6" stroke-linecap="round" stroke-linejoin="round" stroke-dasharray="12.0 14.73" stroke-dashoffset="-2.5"/>
<line x1="104.00" y1="1298.90" x2="313.00" y2="1298.90" stroke="#333" stroke-width="1.6" stroke-linecap="butt"/>
<line x1="104.00" y1="1401.30" x2="314.50" y2="1401.30" stroke="#333" stroke-width="1.8" stroke-linecap="butt"/>
<line x1="106.00" y1="1300.90" x2="106.00" y2="1397.30" stroke="#3a3a3a" stroke-width="1.6" stroke-linecap="butt"/>
<line x1="312.50" y1="1300.90" x2="312.50" y2="1399.30" stroke="#3a3a3a" stroke-width="1.6" stroke-linecap="butt"/>
<path d="M117.40,1317.00 L160.20,1317.00" stroke="#6621a0" stroke-width="3.1" stroke-linecap="round"/>
<path d="M117.40,1347.80 L160.20,1347.80" stroke="#ff0000" stroke-width="3.1" stroke-linecap="round" stroke-dasharray="12.2 14.8"/>
<path d="M117.40,1379.80 L160.20,1379.80" stroke="#000000" stroke-width="3.1" stroke-linecap="round" stroke-dasharray="12.4 14.8 0.1 15.2"/>
<text transform="translate(74.31,492.20) scale(1.1500,1) translate(-0.78,0)" font-family='"Liberation Serif", serif' font-weight="bold" font-size="26.06" fill="#000" stroke="#fff" stroke-width="0.30">0</text>
<text transform="translate(87.61,511.20) scale(1.1500,1) translate(-0.78,0)" font-family='"Liberation Serif", serif' font-weight="bold" font-size="26.06" fill="#000" stroke="#fff" stroke-width="0.30">0</text>
<text transform="translate(52.14,397.80) scale(1.1500,1) translate(-0.78,0)" font-family='"Liberation Serif", serif' font-weight="bold" font-size="26.06" fill="#000" stroke="#fff" stroke-width="0.30">0.2</text>
<text transform="translate(185.04,511.20) scale(1.1500,1) translate(-0.78,0)" font-family='"Liberation Serif", serif' font-weight="bold" font-size="26.06" fill="#000" stroke="#fff" stroke-width="0.30">0.2</text>
<text transform="translate(51.54,303.40) scale(1.1500,1) translate(-0.78,0)" font-family='"Liberation Serif", serif' font-weight="bold" font-size="26.06" fill="#000" stroke="#fff" stroke-width="0.30">0.4</text>
<text transform="translate(293.26,511.20) scale(1.1500,1) translate(-0.78,0)" font-family='"Liberation Serif", serif' font-weight="bold" font-size="26.06" fill="#000" stroke="#fff" stroke-width="0.30">0.4</text>
<text transform="translate(51.84,209.00) scale(1.1500,1) translate(-0.78,0)" font-family='"Liberation Serif", serif' font-weight="bold" font-size="26.06" fill="#000" stroke="#fff" stroke-width="0.30">0.6</text>
<text transform="translate(401.93,511.20) scale(1.1500,1) translate(-0.78,0)" font-family='"Liberation Serif", serif' font-weight="bold" font-size="26.06" fill="#000" stroke="#fff" stroke-width="0.30">0.6</text>
<text transform="translate(51.84,114.60) scale(1.1500,1) translate(-0.78,0)" font-family='"Liberation Serif", serif' font-weight="bold" font-size="26.06" fill="#000" stroke="#fff" stroke-width="0.30">0.8</text>
<text transform="translate(510.45,511.20) scale(1.1500,1) translate(-0.78,0)" font-family='"Liberation Serif", serif' font-weight="bold" font-size="26.06" fill="#000" stroke="#fff" stroke-width="0.30">0.8</text>
<text transform="translate(76.41,20.20) scale(1.1500,1) translate(-2.08,0)" font-family='"Liberation Serif", serif' font-weight="bold" font-size="26.06" fill="#000" stroke="#fff" stroke-width="0.30">1</text>
<text transform="translate(631.26,511.20) scale(1.1500,1) translate(-2.08,0)" font-family='"Liberation Serif", serif' font-weight="bold" font-size="26.06" fill="#000" stroke="#fff" stroke-width="0.30">1</text>
<text transform="translate(164.50,542.70) scale(1.0961,1) translate(-0.29,0)" font-family='"Liberation Serif", serif' font-weight="bold" font-size="28.70" fill="#000" stroke="#fff" stroke-width="0.30">Dimensionless coordinate, Z</text>
<text transform="translate(37.20,405.00) rotate(-90) scale(1.1386,1) translate(-0.28,0)" font-family='"Liberation Serif", serif' font-weight="bold" font-size="27.61" fill="#000" stroke="#fff" stroke-width="0.30">Degree of conversion, α</text>
<text transform="translate(19.90,556.30) scale(1.0552,1) translate(-1.80,0)" font-family='"Liberation Serif", serif' font-weight="bold" font-size="44.93" fill="#000" stroke="#fff" stroke-width="0.30">(a)</text>
<text transform="translate(172.60,45.70) scale(1.0800,1) translate(-0.88,0)" font-family='"Liberation Sans", sans-serif' font-weight="bold" font-size="22.00" fill="#000">d</text>
<text transform="translate(190.10,51.70) scale(1.0800,1) translate(-1.32,0)" font-family='"Liberation Sans", sans-serif' font-weight="bold" font-size="22.00" fill="#000">rb</text>
<text transform="translate(221.40,45.70) scale(1.0665,1) translate(-0.84,0)" font-family='"Liberation Sans", sans-serif' font-weight="bold" font-size="21.00" fill="#000">= 0.05 m</text>
<text transform="translate(172.60,76.60) scale(1.0800,1) translate(-0.88,0)" font-family='"Liberation Sans", sans-serif' font-weight="bold" font-size="22.00" fill="#000">d</text>
<text transform="translate(190.10,82.60) scale(1.0800,1) translate(-1.32,0)" font-family='"Liberation Sans", sans-serif' font-weight="bold" font-size="22.00" fill="#000">rb</text>
<text transform="translate(221.40,76.60) scale(1.0665,1) translate(-0.84,0)" font-family='"Liberation Sans", sans-serif' font-weight="bold" font-size="21.00" fill="#000">= 0.10 m</text>
<text transform="translate(172.60,108.60) scale(1.0800,1) translate(-0.88,0)" font-family='"Liberation Sans", sans-serif' font-weight="bold" font-size="22.00" fill="#000">d</text>
<text transform="translate(190.10,114.60) scale(1.0800,1) translate(-1.32,0)" font-family='"Liberation Sans", sans-serif' font-weight="bold" font-size="22.00" fill="#000">rb</text>
<text transform="translate(221.40,108.60) scale(1.0665,1) translate(-0.84,0)" font-family='"Liberation Sans", sans-serif' font-weight="bold" font-size="21.00" fill="#000">= 0.50 m</text>
<text transform="translate(61.11,1134.90) scale(1.1500,1) translate(-0.78,0)" font-family='"Liberation Serif", serif' font-weight="bold" font-size="26.06" fill="#000" stroke="#fff" stroke-width="0.30">0</text>
<text transform="translate(39.24,1037.62) scale(1.1500,1) translate(-0.78,0)" font-family='"Liberation Serif", serif' font-weight="bold" font-size="26.06" fill="#000" stroke="#fff" stroke-width="0.30">0.1</text>
<text transform="translate(38.94,940.34) scale(1.1500,1) translate(-0.78,0)" font-family='"Liberation Serif", serif' font-weight="bold" font-size="26.06" fill="#000" stroke="#fff" stroke-width="0.30">0.2</text>
<text transform="translate(38.64,843.06) scale(1.1500,1) translate(-0.78,0)" font-family='"Liberation Serif", serif' font-weight="bold" font-size="26.06" fill="#000" stroke="#fff" stroke-width="0.30">0.3</text>
<text transform="translate(38.34,745.78) scale(1.1500,1) translate(-0.78,0)" font-family='"Liberation Serif", serif' font-weight="bold" font-size="26.06" fill="#000" stroke="#fff" stroke-width="0.30">0.4</text>
<text transform="translate(38.64,648.50) scale(1.1500,1) translate(-0.78,0)" font-family='"Liberation Serif", serif' font-weight="bold" font-size="26.06" fill="#000" stroke="#fff" stroke-width="0.30">0.5</text>
<text transform="translate(77.91,1152.80) scale(1.1500,1) translate(-0.78,0)" font-family='"Liberation Serif", serif' font-weight="bold" font-size="26.06" fill="#000" stroke="#fff" stroke-width="0.30">0</text>
<text transform="translate(179.00,1152.80) scale(1.1500,1) translate(-0.78,0)" font-family='"Liberation Serif", serif' font-weight="bold" font-size="26.06" fill="#000" stroke="#fff" stroke-width="0.30">0.2</text>
<text transform="translate(290.88,1152.80) scale(1.1500,1) translate(-0.78,0)" font-family='"Liberation Serif", serif' font-weight="bold" font-size="26.06" fill="#000" stroke="#fff" stroke-width="0.30">0.4</text>
<text transform="translate(403.21,1152.80) scale(1.1500,1) translate(-0.78,0)" font-family='"Liberation Serif", serif' font-weight="bold" font-size="26.06" fill="#000" stroke="#fff" stroke-width="0.30">0.6</text>
<text transform="translate(515.39,1152.80) scale(1.1500,1) translate(-0.78,0)" font-family='"Liberation Serif", serif' font-weight="bold" font-size="26.06" fill="#000" stroke="#fff" stroke-width="0.30">0.8</text>
<text transform="translate(639.86,1152.80) scale(1.1500,1) translate(-2.08,0)" font-family='"Liberation Serif", serif' font-weight="bold" font-size="26.06" fill="#000" stroke="#fff" stroke-width="0.30">1</text>
<text transform="translate(176.50,1184.60) scale(1.1197,1) translate(-0.29,0)" font-family='"Liberation Serif", serif' font-weight="bold" font-size="28.91" fill="#000" stroke="#fff" stroke-width="0.30">Dimensionless coordinate, Z</text>
<text transform="translate(23.70,1099.00) rotate(-90) scale(1.2034,1) translate(-0.27,0)" font-family='"Liberation Serif", serif' font-weight="bold" font-size="27.17" fill="#000" stroke="#fff" stroke-width="0.30">Dimensionless concentration, β</text>
<text transform="translate(8.30,1208.00) scale(1.0313,1) translate(-1.82,0)" font-family='"Liberation Serif", serif' font-weight="bold" font-size="45.51" fill="#000" stroke="#fff" stroke-width="0.30">(b)</text>
<text transform="translate(163.50,675.30) scale(1.0800,1) translate(-0.91,0)" font-family='"Liberation Sans", sans-serif' font-weight="bold" font-size="22.80" fill="#000">d</text>
<text transform="translate(181.20,681.30) scale(1.0800,1) translate(-1.37,0)" font-family='"Liberation Sans", sans-serif' font-weight="bold" font-size="22.80" fill="#000">rb</text>
<text transform="translate(214.30,675.30) scale(1.0837,1) translate(-0.86,0)" font-family='"Liberation Sans", sans-serif' font-weight="bold" font-size="21.50" fill="#000">= 0.05 m</text>
<text transform="translate(163.50,707.40) scale(1.0800,1) translate(-0.91,0)" font-family='"Liberation Sans", sans-serif' font-weight="bold" font-size="22.80" fill="#000">d</text>
<text transform="translate(181.20,713.40) scale(1.0800,1) translate(-1.37,0)" font-family='"Liberation Sans", sans-serif' font-weight="bold" font-size="22.80" fill="#000">rb</text>
<text transform="translate(214.30,707.40) scale(1.0837,1) translate(-0.86,0)" font-family='"Liberation Sans", sans-serif' font-weight="bold" font-size="21.50" fill="#000">= 0.10 m</text>
<text transform="translate(163.50,740.40) scale(1.0800,1) translate(-0.91,0)" font-family='"Liberation Sans", sans-serif' font-weight="bold" font-size="22.80" fill="#000">d</text>
<text transform="translate(181.20,746.40) scale(1.0800,1) translate(-1.37,0)" font-family='"Liberation Sans", sans-serif' font-weight="bold" font-size="22.80" fill="#000">rb</text>
<text transform="translate(214.30,740.40) scale(1.0837,1) translate(-0.86,0)" font-family='"Liberation Sans", sans-serif' font-weight="bold" font-size="21.50" fill="#000">= 0.50 m</text>
<text transform="translate(70.16,1759.30) scale(1.1200,1) translate(-0.78,0)" font-family='"Liberation Serif", serif' font-weight="bold" font-size="26.06" fill="#000" stroke="#fff" stroke-width="0.30">0</text>
<text transform="translate(86.28,1777.80) scale(1.1200,1) translate(-0.78,0)" font-family='"Liberation Serif", serif' font-weight="bold" font-size="26.06" fill="#000" stroke="#fff" stroke-width="0.30">0</text>
<text transform="translate(48.56,1666.98) scale(1.1200,1) translate(-0.78,0)" font-family='"Liberation Serif", serif' font-weight="bold" font-size="26.06" fill="#000" stroke="#fff" stroke-width="0.30">0.2</text>
<text transform="translate(184.42,1777.80) scale(1.1200,1) translate(-0.78,0)" font-family='"Liberation Serif", serif' font-weight="bold" font-size="26.06" fill="#000" stroke="#fff" stroke-width="0.30">0.2</text>
<text transform="translate(47.97,1574.66) scale(1.1200,1) translate(-0.78,0)" font-family='"Liberation Serif", serif' font-weight="bold" font-size="26.06" fill="#000" stroke="#fff" stroke-width="0.30">0.4</text>
<text transform="translate(293.07,1777.80) scale(1.1200,1) translate(-0.78,0)" font-family='"Liberation Serif", serif' font-weight="bold" font-size="26.06" fill="#000" stroke="#fff" stroke-width="0.30">0.4</text>
<text transform="translate(48.27,1482.34) scale(1.1200,1) translate(-0.78,0)" font-family='"Liberation Serif", serif' font-weight="bold" font-size="26.06" fill="#000" stroke="#fff" stroke-width="0.30">0.6</text>
<text transform="translate(402.15,1777.80) scale(1.1200,1) translate(-0.78,0)" font-family='"Liberation Serif", serif' font-weight="bold" font-size="26.06" fill="#000" stroke="#fff" stroke-width="0.30">0.6</text>
<text transform="translate(48.27,1390.02) scale(1.1200,1) translate(-0.78,0)" font-family='"Liberation Serif", serif' font-weight="bold" font-size="26.06" fill="#000" stroke="#fff" stroke-width="0.30">0.8</text>
<text transform="translate(511.09,1777.80) scale(1.1200,1) translate(-0.78,0)" font-family='"Liberation Serif", serif' font-weight="bold" font-size="26.06" fill="#000" stroke="#fff" stroke-width="0.30">0.8</text>
<text transform="translate(72.20,1297.70) scale(1.1200,1) translate(-2.08,0)" font-family='"Liberation Serif", serif' font-weight="bold" font-size="26.06" fill="#000" stroke="#fff" stroke-width="0.30">1</text>
<text transform="translate(632.00,1777.80) scale(1.1200,1) translate(-2.08,0)" font-family='"Liberation Serif", serif' font-weight="bold" font-size="26.06" fill="#000" stroke="#fff" stroke-width="0.30">1</text>
<text transform="translate(186.90,1809.90) scale(1.1352,1) translate(-0.28,0)" font-family='"Liberation Serif", serif' font-weight="bold" font-size="27.61" fill="#000" stroke="#fff" stroke-width="0.30">Dimensionless coordinate, z</text>
<text transform="translate(33.60,1732.00) rotate(-90) scale(1.2104,1) translate(-0.26,0)" font-family='"Liberation Serif", serif' font-weight="bold" font-size="26.09" fill="#000" stroke="#fff" stroke-width="0.30">Dimensionless concentration, η</text>
<text transform="translate(15.30,1824.20) scale(1.1252,1) translate(-1.65,0)" font-family='"Liberation Serif", serif' font-weight="bold" font-size="41.16" fill="#000" stroke="#fff" stroke-width="0.30">(c)</text>
<text transform="translate(166.30,1323.90) scale(1.0800,1) translate(-0.90,0)" font-family='"Liberation Sans", sans-serif' font-weight="bold" font-size="22.50" fill="#000">d</text>
<text transform="translate(183.00,1329.50) scale(1.0800,1) translate(-1.35,0)" font-family='"Liberation Sans", sans-serif' font-weight="bold" font-size="22.50" fill="#000">rb</text>
<text transform="translate(214.80,1323.90) scale(1.0628,1) translate(-0.84,0)" font-family='"Liberation Sans", sans-serif' font-weight="bold" font-size="21.00" fill="#000">= 0.05 m</text>
<text transform="translate(166.30,1354.70) scale(1.0800,1) translate(-0.90,0)" font-family='"Liberation Sans", sans-serif' font-weight="bold" font-size="22.50" fill="#000">d</text>
<text transform="translate(183.00,1360.30) scale(1.0800,1) translate(-1.35,0)" font-family='"Liberation Sans", sans-serif' font-weight="bold" font-size="22.50" fill="#000">rb</text>
<text transform="translate(214.80,1354.70) scale(1.0628,1) translate(-0.84,0)" font-family='"Liberation Sans", sans-serif' font-weight="bold" font-size="21.00" fill="#000">= 0.10 m</text>
<text transform="translate(166.30,1386.70) scale(1.0800,1) translate(-0.90,0)" font-family='"Liberation Sans", sans-serif' font-weight="bold" font-size="22.50" fill="#000">d</text>
<text transform="translate(183.00,1392.30) scale(1.0800,1) translate(-1.35,0)" font-family='"Liberation Sans", sans-serif' font-weight="bold" font-size="22.50" fill="#000">rb</text>
<text transform="translate(214.80,1386.70) scale(1.0628,1) translate(-0.84,0)" font-family='"Liberation Sans", sans-serif' font-weight="bold" font-size="21.00" fill="#000">= 0.50 m</text>
</svg></body></html>
